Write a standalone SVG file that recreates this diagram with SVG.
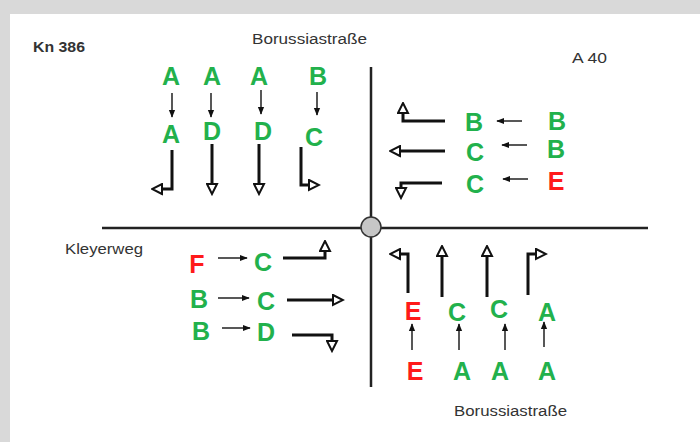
<svg xmlns="http://www.w3.org/2000/svg" width="700" height="442" viewBox="0 0 700 442">
<defs>
<marker id="open" viewBox="0 0 13 13" refX="1.5" refY="6.5" markerWidth="13" markerHeight="13" markerUnits="userSpaceOnUse" orient="auto">
<path d="M1.5,1.5 L11.5,6.5 L1.5,11.5 Z" fill="#fff" stroke="#111" stroke-width="2" stroke-linejoin="miter"/>
</marker>
<marker id="sm" viewBox="0 0 10 10" refX="9" refY="5" markerWidth="8" markerHeight="8" markerUnits="userSpaceOnUse" orient="auto">
<path d="M0,1 L10,5 L0,9 Z" fill="#111"/>
</marker>
<style>
.g{fill:#22b14c;font-family:"Liberation Sans",Arial,sans-serif;font-weight:bold;font-size:25px;text-anchor:middle}
.r{fill:#ff1a1a;font-family:"Liberation Sans",Arial,sans-serif;font-weight:bold;font-size:25px;text-anchor:middle}
.lbl{fill:#333;font-family:"Liberation Sans",Arial,sans-serif;font-size:14px}
.thick{fill:none;stroke:#111;stroke-width:3;marker-end:url(#open)}
.thin{fill:none;stroke:#111;stroke-width:1.4;marker-end:url(#sm)}
.road{stroke:#222;stroke-width:2.5}
</style>
</defs>
<rect x="0" y="0" width="700" height="442" fill="#d9d9d9"/>
<rect x="10" y="14" width="690" height="428" fill="#fff"/>

<g id="labels">
<text x="33" y="52" class="lbl" font-weight="bold" fill="#222" textLength="52" lengthAdjust="spacingAndGlyphs">Kn 386</text>
<text x="252" y="44" class="lbl" textLength="115" lengthAdjust="spacingAndGlyphs">Borussiastraße</text>
<text x="572" y="63" class="lbl" textLength="35" lengthAdjust="spacingAndGlyphs">A 40</text>
<text x="65" y="254" class="lbl" textLength="78" lengthAdjust="spacingAndGlyphs">Kleyerweg</text>
<text x="454" y="416" class="lbl" textLength="113" lengthAdjust="spacingAndGlyphs">Borussiastraße</text>
</g>

<g id="roads">
<line x1="371" y1="67" x2="371" y2="387" class="road"/>
<line x1="102" y1="228" x2="648" y2="228" class="road"/>
<circle cx="371" cy="227" r="10" fill="#c6c6c6" stroke="#333" stroke-width="1.5"/>
</g>

<g id="north">
<text x="171" y="85" class="g">A</text>
<text x="212" y="85" class="g">A</text>
<text x="259" y="85" class="g">A</text>
<text x="318" y="85" class="g">B</text>
<text x="171" y="143" class="g">A</text>
<text x="212" y="140" class="g">D</text>
<text x="263" y="140" class="g">D</text>
<text x="314" y="146" class="g">C</text>
</g>
<g id="east">
<text x="474" y="131" class="g">B</text>
<text x="557" y="130" class="g">B</text>
<text x="475" y="161" class="g">C</text>
<text x="556" y="158" class="g">B</text>
<text x="475" y="193" class="g">C</text>
<text x="556" y="190" class="r">E</text>
</g>
<g id="west">
<text x="197" y="273" class="r">F</text>
<text x="263" y="271" class="g">C</text>
<text x="199" y="308" class="g">B</text>
<text x="266" y="310" class="g">C</text>
<text x="201" y="340" class="g">B</text>
<text x="266" y="341" class="g">D</text>
</g>
<g id="south">
<text x="413" y="320" class="r">E</text>
<text x="457" y="321" class="g">C</text>
<text x="499" y="318" class="g">C</text>
<text x="547" y="321" class="g">A</text>
<text x="415" y="380" class="r">E</text>
<text x="462" y="380" class="g">A</text>
<text x="500" y="380" class="g">A</text>
<text x="547" y="380" class="g">A</text>
</g>

<g id="connectors">
<!-- north small arrows -->
<line x1="172" y1="93" x2="172" y2="117" class="thin"/>
<line x1="211" y1="93" x2="211" y2="117" class="thin"/>
<line x1="261" y1="90" x2="261" y2="114" class="thin"/>
<line x1="317" y1="92" x2="317" y2="115" class="thin"/>
<!-- north turn arrows -->
<path d="M172,150 V189 H162" class="thick"/>
<path d="M212,144 V184" class="thick"/>
<path d="M259,144 V184" class="thick"/>
<path d="M301,147 V185 H309" class="thick"/>
<!-- east small arrows -->
<line x1="522" y1="121" x2="497" y2="121" class="thin"/>
<line x1="527" y1="145" x2="502" y2="145" class="thin"/>
<line x1="528" y1="179" x2="503" y2="179" class="thin"/>
<!-- east turn arrows -->
<path d="M445,121 H403 V113" class="thick"/>
<path d="M445,151 H400" class="thick"/>
<path d="M442,183 H401 V188" class="thick"/>
<!-- west small arrows -->
<line x1="218" y1="258" x2="247" y2="258" class="thin"/>
<line x1="218" y1="298" x2="249" y2="298" class="thin"/>
<line x1="222" y1="328" x2="250" y2="328" class="thin"/>
<!-- west turn arrows -->
<path d="M283,258 H325 V251" class="thick"/>
<path d="M287,300 H333" class="thick"/>
<path d="M292,335 H332 V341" class="thick"/>
<!-- south small arrows -->
<line x1="412" y1="350" x2="412" y2="324" class="thin"/>
<line x1="459" y1="350" x2="459" y2="324" class="thin"/>
<line x1="505" y1="350" x2="505" y2="324" class="thin"/>
<line x1="544" y1="347" x2="544" y2="322" class="thin"/>
<!-- south turn arrows -->
<path d="M408,293 V254 H400" class="thick"/>
<path d="M442,297 V256" class="thick"/>
<path d="M487,297 V256" class="thick"/>
<path d="M528,295 V254 H536" class="thick"/>
</g>
</svg>
